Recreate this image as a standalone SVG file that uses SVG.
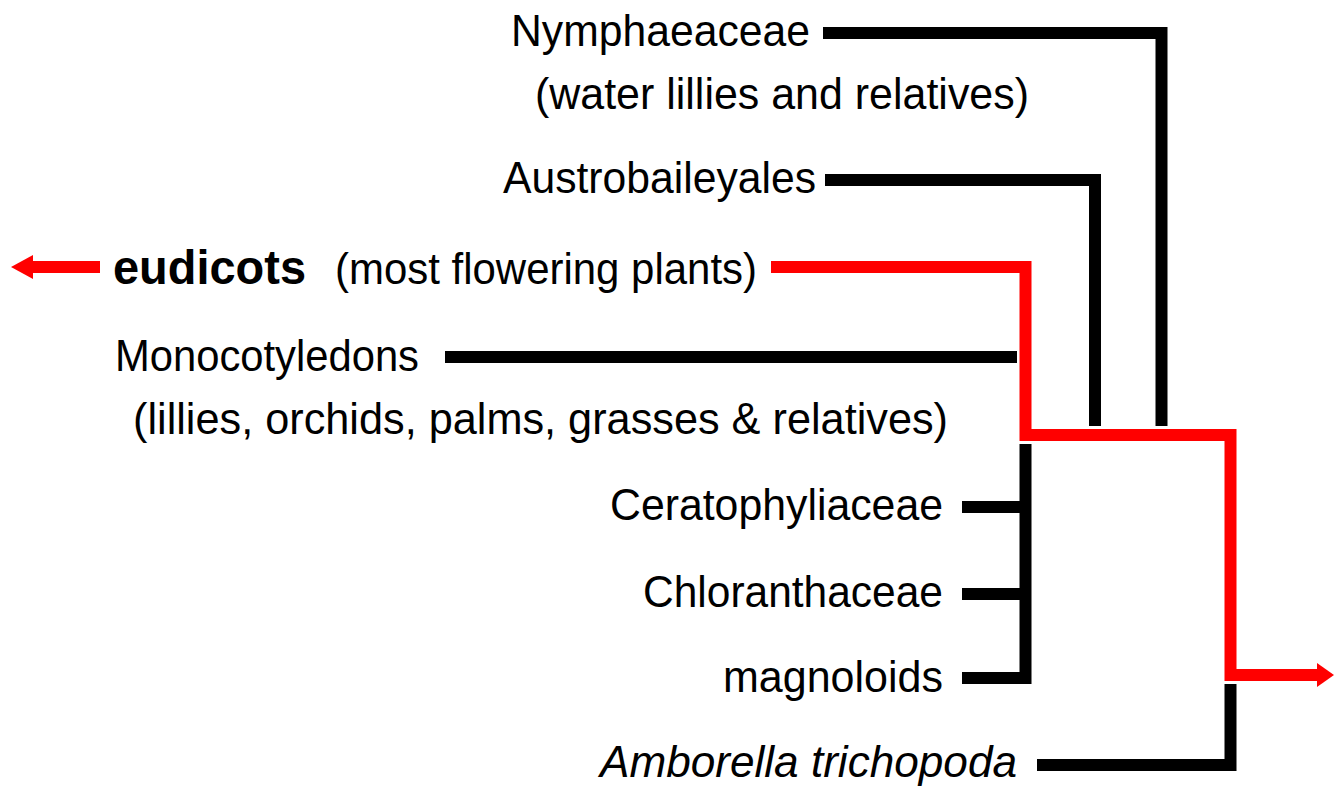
<svg xmlns="http://www.w3.org/2000/svg" width="1334" height="786" viewBox="0 0 1334 786">
<style>
text { font-family: "Liberation Sans", Arial, sans-serif; font-size: 44px; fill: #000; }
.b { font-weight: bold; font-size: 48px; }
.i { font-style: italic; }
.blk { fill: none; stroke: #000; stroke-width: 12; stroke-linejoin: miter; stroke-linecap: butt; }
.red { fill: none; stroke: #FF0000; stroke-width: 12; stroke-linejoin: miter; stroke-linecap: butt; }
.head { fill: #FF0000; }
</style>
<rect width="1334" height="786" fill="#fff"/>
<g id="connectors">
  <path class="blk" d="M823,33 H1161.5 V426"/>
  <path class="blk" d="M825,180 H1095 V426"/>
  <path class="blk" d="M445,357 H1017"/>
  <path class="blk" d="M962,507 H1025.5"/>
  <path class="blk" d="M962,594 H1025.5"/>
  <path class="blk" d="M962,678 H1025.5 V444"/>
  <path class="blk" d="M1037,765 H1230.5 V684"/>
  <path class="red" d="M771,267 H1025.5 V435 H1230.5 V675 H1318"/>
  <polygon class="head" points="1334,675 1317,663 1317,687"/>
  <path class="red" d="M100,267 H32"/>
  <polygon class="head" points="11,267 33,255 33,279"/>
</g>
<g id="nymphaeaceae">
  <text x="511" y="46" textLength="299" lengthAdjust="spacingAndGlyphs">Nymphaeaceae</text>
  <text x="535" y="109" textLength="494" lengthAdjust="spacingAndGlyphs">(water lillies and relatives)</text>
</g>
<g id="austrobaileyales">
  <text x="503" y="193" textLength="313" lengthAdjust="spacingAndGlyphs">Austrobaileyales</text>
</g>
<g id="eudicots">
  <text class="b" x="113" y="284" textLength="193" lengthAdjust="spacingAndGlyphs">eudicots</text>
  <text x="335" y="284" textLength="422" lengthAdjust="spacingAndGlyphs">(most flowering plants)</text>
</g>
<g id="monocotyledons">
  <text x="115" y="371" textLength="304" lengthAdjust="spacingAndGlyphs">Monocotyledons</text>
  <text x="133" y="434" textLength="815" lengthAdjust="spacingAndGlyphs">(lillies, orchids, palms, grasses &amp; relatives)</text>
</g>
<g id="ceratophyliaceae">
  <text x="610" y="520" textLength="333" lengthAdjust="spacingAndGlyphs">Ceratophyliaceae</text>
</g>
<g id="chloranthaceae">
  <text x="643" y="607" textLength="300" lengthAdjust="spacingAndGlyphs">Chloranthaceae</text>
</g>
<g id="magnoloids">
  <text x="723" y="692" textLength="220" lengthAdjust="spacingAndGlyphs">magnoloids</text>
</g>
<g id="amborella">
  <text class="i" x="600" y="777" textLength="417" lengthAdjust="spacingAndGlyphs">Amborella trichopoda</text>
</g>
</svg>
